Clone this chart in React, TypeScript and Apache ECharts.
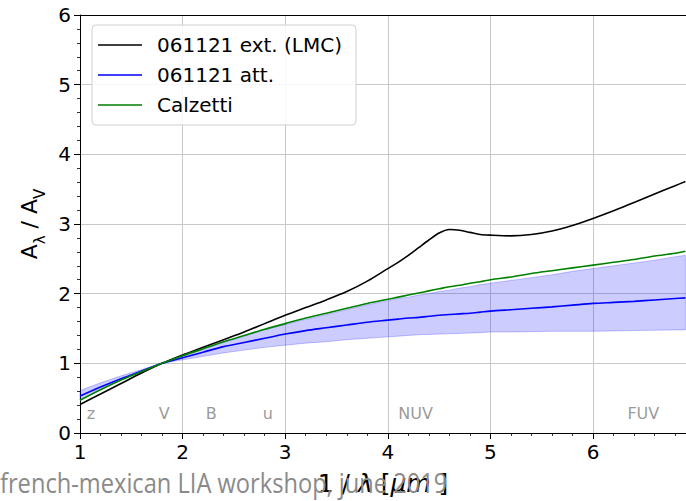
import React, { useEffect, useRef } from "react";
import * as echarts from "echarts";

// Wavenumber grid (1/λ in μm⁻¹) shared by the curves and the band
const waveX = [1.0, 1.2, 1.4, 1.6, 1.8, 2.0, 2.2, 2.4, 2.6, 2.8, 3.0, 3.2, 3.4, 3.6, 3.8, 4.0, 4.1, 4.2, 4.3, 4.4, 4.5, 4.6, 4.7, 4.8, 4.9, 5.0, 5.2, 5.4, 5.6, 5.8, 6.0, 6.2, 6.4, 6.6, 6.8, 6.9];

// 061121 extinction curve (LMC)
const extLMC = [0.41, 0.56, 0.71, 0.86, 1.0, 1.12, 1.23, 1.34, 1.45, 1.57, 1.69, 1.8, 1.91, 2.03, 2.18, 2.36, 2.45, 2.55, 2.66, 2.77, 2.87, 2.92, 2.91, 2.88, 2.85, 2.84, 2.83, 2.85, 2.9, 2.98, 3.08, 3.19, 3.31, 3.43, 3.55, 3.61];

// 061121 attenuation curve
const att = [0.53, 0.66, 0.78, 0.89, 1.0, 1.08, 1.16, 1.24, 1.3, 1.36, 1.42, 1.47, 1.51, 1.55, 1.59, 1.62, 1.635, 1.65, 1.66, 1.675, 1.69, 1.7, 1.71, 1.72, 1.735, 1.75, 1.77, 1.79, 1.81, 1.835, 1.86, 1.875, 1.89, 1.91, 1.93, 1.94];

// Attenuation uncertainty band
const attLow = [0.47, 0.62, 0.76, 0.88, 1.0, 1.05, 1.1, 1.15, 1.19, 1.23, 1.26, 1.29, 1.31, 1.34, 1.36, 1.38, 1.39, 1.4, 1.41, 1.415, 1.42, 1.425, 1.43, 1.435, 1.44, 1.45, 1.45, 1.455, 1.46, 1.46, 1.46, 1.465, 1.47, 1.475, 1.48, 1.48];
const attHigh = [0.61, 0.72, 0.82, 0.91, 1.0, 1.1, 1.2, 1.3, 1.39, 1.48, 1.56, 1.63, 1.7, 1.77, 1.84, 1.9, 1.93, 1.95, 1.98, 2.0, 2.03, 2.05, 2.08, 2.1, 2.13, 2.15, 2.19, 2.23, 2.27, 2.32, 2.36, 2.4, 2.44, 2.48, 2.53, 2.55];

// Calzetti law
const calzetti = [0.47, 0.62, 0.76, 0.88, 1.0, 1.11, 1.21, 1.31, 1.4, 1.49, 1.57, 1.65, 1.72, 1.79, 1.86, 1.92, 1.95, 1.98, 2.01, 2.04, 2.07, 2.1, 2.12, 2.15, 2.17, 2.2, 2.24, 2.29, 2.33, 2.37, 2.41, 2.45, 2.49, 2.54, 2.58, 2.61];

// Photometric band markers
const bandNames = ["z", "V", "B", "u", "NUV", "FUV"];
const bandX = [1.107, 1.82, 2.28, 2.83, 4.27, 6.49];
const bandLabelY = 0.28;

const legendNames = ["061121 ext. (LMC)", "061121 att.", "Calzetti"];

const FONT = "DejaVu Sans";
// Plain horizontal stroke for legend entries (tiny corner dots fix the icon box)
const LINE_ICON = "path://M0,0H0.01V0.01H0Z M0,9.25H44V10.75H0Z M43.99,19.99H44V20H43.99Z";

export default function App() {
  const ref = useRef<HTMLDivElement>(null);

  useEffect(() => {
    if (!ref.current) return;
    const chart = echarts.init(ref.current, null, { renderer: "svg" });

    const pairs = (ys: number[]) => waveX.map((x, i) => [x, ys[i]]);

    const axisCommon = {
      type: "value" as const,
      interval: 1,
      axisLine: { show: true, lineStyle: { color: "#000", width: 1 } },
      axisTick: { show: true, length: 6, lineStyle: { color: "#000", width: 1 } },
      minorTick: { show: true, splitNumber: 5, length: 3, lineStyle: { color: "#000", width: 0.8 } },
      splitLine: { show: true, lineStyle: { color: "#c8c8c8", width: 1 } },
      axisLabel: { color: "#000", fontFamily: FONT, fontSize: 20 },
    };

    chart.setOption({
      animation: false,
      backgroundColor: "#fff",
      grid: { left: 80, right: 0, top: 15, bottom: 63, containLabel: false },
      legend: {
        data: legendNames.map((n) => ({ name: n, icon: LINE_ICON })),
        orient: "vertical",
        left: 92,
        top: 25,
        itemWidth: 44,
        itemHeight: 20,
        itemGap: 10,
        padding: [10, 14, 10, 6],
        backgroundColor: "rgba(255,255,255,0.85)",
        borderColor: "#d0d0d0",
        borderWidth: 1,
        borderRadius: 4,
        textStyle: { color: "#000", fontFamily: FONT, fontSize: 20, padding: [0, 0, 0, 10] },
      },
      xAxis: [
        {
          ...axisCommon,
          min: 1,
          max: 6.906,
          axisLabel: { ...axisCommon.axisLabel, margin: 9, showMaxLabel: false },
          name: "{n|1 / }{i|λ}{n| [}{i|μm}{n| ]}",
          nameLocation: "middle",
          nameGap: 38,
          nameTextStyle: {
            rich: {
              n: { fontFamily: FONT, fontSize: 25, color: "#000" },
              i: { fontFamily: FONT, fontSize: 25, color: "#000", fontStyle: "italic" },
            },
          },
        },
        {
          type: "value",
          position: "top",
          min: 1,
          max: 6.906,
          axisLine: { show: true, lineStyle: { color: "#000", width: 1 } },
          axisTick: { show: false },
          axisLabel: { show: false },
          splitLine: { show: false },
        },
      ],
      yAxis: {
        ...axisCommon,
        min: 0,
        max: 6,
        axisLabel: { ...axisCommon.axisLabel, margin: 9 },
        name: "{a|A}{s|λ}{a| / A}{s|V}",
        nameLocation: "middle",
        nameRotate: 90,
        nameGap: 25,
        nameTextStyle: {
          rich: {
            a: { fontFamily: FONT, fontSize: 22, color: "#000", padding: [0, 0, 7, 0] },
            s: { fontFamily: FONT, fontSize: 15, color: "#000", verticalAlign: "bottom" },
          },
        },
      },
      series: [
        {
          name: "attBand",
          type: "custom",
          coordinateSystem: "cartesian2d",
          silent: true,
          data: [[waveX[0], attLow[0]]],
          renderItem: (_params: any, api: any) => {
            const upper = waveX.map((x, i) => api.coord([x, attHigh[i]]));
            const lower = waveX.map((x, i) => api.coord([x, attLow[i]])).reverse();
            return {
              type: "polygon",
              shape: { points: upper.concat(lower) },
              style: { fill: "rgba(0,0,255,0.2)", stroke: "rgba(0,0,255,0.22)", lineWidth: 1 },
            };
          },
          z: 1,
        },
        {
          name: legendNames[0],
          type: "line",
          data: pairs(extLMC),
          symbol: "none",
          smooth: 0.3,
          color: "#000",
          lineStyle: { color: "#000", width: 1.6 },
          z: 3,
        },
        {
          name: legendNames[1],
          type: "line",
          data: pairs(att),
          symbol: "none",
          smooth: 0.3,
          color: "#0000ff",
          lineStyle: { color: "#0000ff", width: 1.6 },
          z: 3,
        },
        {
          name: legendNames[2],
          type: "line",
          data: pairs(calzetti),
          symbol: "none",
          smooth: 0.3,
          color: "#008000",
          lineStyle: { color: "#008000", width: 1.6 },
          z: 3,
        },
        {
          name: "bands",
          type: "scatter",
          symbolSize: 0,
          silent: true,
          data: bandNames.map((n, i) => ({ name: n, value: [bandX[i], bandLabelY] })),
          label: {
            show: true,
            position: "inside",
            formatter: "{b}",
            color: "#808080",
            fontFamily: FONT,
            fontSize: 16,
          },
          z: 4,
        },
      ],
      graphic: [
        {
          type: "text",
          left: 0,
          top: 468,
          scaleX: 0.845,
          style: {
            text: "french-mexican LIA workshop, june 2019",
            fill: "#8a8a8a",
            font: "28px 'Open Sans'",
          },
          z: 10,
        },
      ],
    });

    return () => chart.dispose();
  }, []);

  return (
    <div
      ref={ref}
      style={{ position: "fixed", left: 0, top: 0, width: 686, height: 501 }}
    />
  );
}
